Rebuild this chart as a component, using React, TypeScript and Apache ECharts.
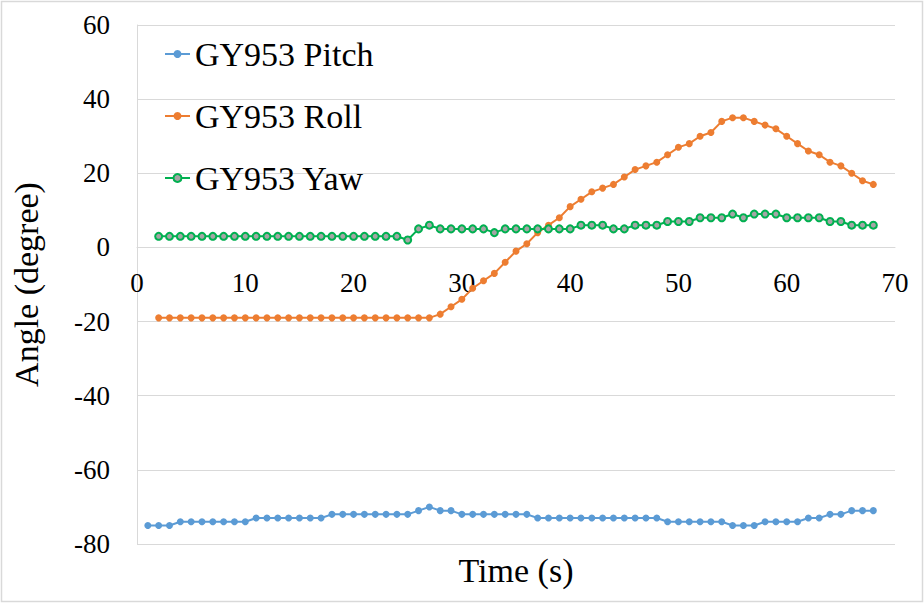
import React, { useEffect, useRef } from "react";
import * as echarts from "echarts";

const pitchTime = [1,2,3,4,5,6,7,8,9,10,11,12,13,14,15,16,17,18,19,20,21,22,23,24,25,26,27,28,29,30,31,32,33,34,35,36,37,38,39,40,41,42,43,44,45,46,47,48,49,50,51,52,53,54,55,56,57,58,59,60,61,62,63,64,65,66,67,68];
const otherTime = [2,3,4,5,6,7,8,9,10,11,12,13,14,15,16,17,18,19,20,21,22,23,24,25,26,27,28,29,30,31,32,33,34,35,36,37,38,39,40,41,42,43,44,45,46,47,48,49,50,51,52,53,54,55,56,57,58,59,60,61,62,63,64,65,66,67,68];

const pitch = [
  -75,-75,-75,
  -74,-74,-74,-74,-74,-74,-74,
  -73,-73,-73,-73,-73,-73,-73,
  -72,-72,-72,-72,-72,-72,-72,-72,
  -71,-70,-71,-71,
  -72,-72,-72,-72,-72,-72,-72,
  -73,-73,-73,-73,-73,-73,-73,-73,-73,-73,-73,-73,
  -74,-74,-74,-74,-74,-74,
  -75,-75,-75,
  -74,-74,-74,-74,
  -73,-73,
  -72,-72,
  -71,-71,-71,
];

const roll = [
  -19,-19,-19,-19,-19,-19,-19,-19,-19,-19,-19,-19,-19,-19,-19,-19,-19,-19,-19,-19,-19,-19,-19,-19,-19,-19,
  -18,-16,-14,-11,-9,-7,-4,-1,1,4,6,8,11,13,15,16,17,19,21,22,23,25,27,28,30,31,34,35,35,34,33,32,30,28,26,25,23,22,20,18,17,
];

const yaw = [
  3,3,3,3,3,3,3,3,3,3,3,3,3,3,3,3,3,3,3,3,3,3,3,
  2,5,6,
  5,5,5,5,5,
  4,
  5,5,5,5,5,5,5,
  6,6,6,
  5,5,
  6,6,6,
  7,7,7,
  8,8,8,
  9,8,
  9,9,9,
  8,8,8,8,
  7,7,
  6,6,6,
];

const seriesNames = ["GY953 Pitch", "GY953 Roll", "GY953 Yaw"];
const xTicks = { min: 0, max: 70, interval: 10 };
const yTicks = { min: -80, max: 60, interval: 20 };

const pair = (xs: number[], ys: number[]) => ys.map((v, i) => [xs[i], v]);

export default function App() {
  const ref = useRef<HTMLDivElement>(null);
  useEffect(() => {
    if (!ref.current) return;
    const chart = echarts.init(ref.current, undefined, { renderer: "svg" });
    const font = "'Liberation Serif', 'Times New Roman', serif";
    const gridTop = 25;
    const gridBottom = 59;
    const plotH = 603 - gridTop - gridBottom;
    // shift the x axis up so it sits at y = 0 (like Excel's crossing axis)
    const zeroShift = -plotH * (0 - yTicks.min) / (yTicks.max - yTicks.min);
    chart.setOption({
      animation: false,
      backgroundColor: "#ffffff",
      textStyle: { fontFamily: font },
      graphic: [
        {
          type: "rect",
          shape: { x: 1.5, y: 1.5, width: 921, height: 600 },
          style: { fill: "none", stroke: "#d9d9d9", lineWidth: 1.5 },
          silent: true,
        },
      ],
      grid: {
        left: 137,
        right: 29,
        top: gridTop,
        bottom: gridBottom,
        outerBoundsMode: "none",
        containLabel: false,
      },
      legend: {
        orient: "vertical",
        left: 159,
        top: 32,
        itemGap: 28,
        itemWidth: 25,
        itemHeight: 10,
        textStyle: { fontFamily: font, fontSize: 34, color: "#000", lineHeight: 34 },
        data: seriesNames,
      },
      xAxis: {
        type: "value",
        min: xTicks.min,
        max: xTicks.max,
        interval: xTicks.interval,
        position: "bottom",
        offset: zeroShift,
        name: "Time (s)",
        nameLocation: "middle",
        nameGap: 306,
        nameTextStyle: { fontFamily: font, fontSize: 34, color: "#000" },
        axisLine: { show: true, onZero: false, lineStyle: { color: "#d9d9d9", width: 1 } },
        axisTick: { show: false },
        splitLine: { show: false },
        axisLabel: { fontFamily: font, fontSize: 27, color: "#000", margin: 22 },
      },
      yAxis: {
        type: "value",
        min: yTicks.min,
        max: yTicks.max,
        interval: yTicks.interval,
        name: "Angle (degree)",
        nameLocation: "middle",
        nameGap: 94,
        nameTextStyle: { fontFamily: font, fontSize: 34, color: "#000" },
        axisLine: { show: true, onZero: false, lineStyle: { color: "#d9d9d9", width: 1 } },
        axisTick: { show: false },
        splitLine: { show: true, lineStyle: { color: "#d9d9d9", width: 1 } },
        axisLabel: { fontFamily: font, fontSize: 27, color: "#000", margin: 27 },
      },
      series: [
        {
          name: seriesNames[0],
          type: "line",
          data: pair(pitchTime, pitch),
          symbol: "circle",
          symbolSize: 7,
          showAllSymbol: true,
          lineStyle: { color: "#5B9BD5", width: 2 },
          itemStyle: { color: "#5B9BD5" },
        },
        {
          name: seriesNames[1],
          type: "line",
          data: pair(otherTime, roll),
          symbol: "circle",
          symbolSize: 7,
          showAllSymbol: true,
          lineStyle: { color: "#ED7D31", width: 2 },
          itemStyle: { color: "#ED7D31" },
        },
        {
          name: seriesNames[2],
          type: "line",
          data: pair(otherTime, yaw),
          symbol: "circle",
          symbolSize: 7,
          showAllSymbol: true,
          lineStyle: { color: "#00B050", width: 2 },
          itemStyle: { color: "#A5A5A5", borderColor: "#00B050", borderWidth: 2 },
        },
      ],
    });
    return () => chart.dispose();
  }, []);
  return (
    <div
      ref={ref}
      style={{ position: "fixed", left: 0, top: 0, width: 924, height: 603 }}
    />
  );
}
